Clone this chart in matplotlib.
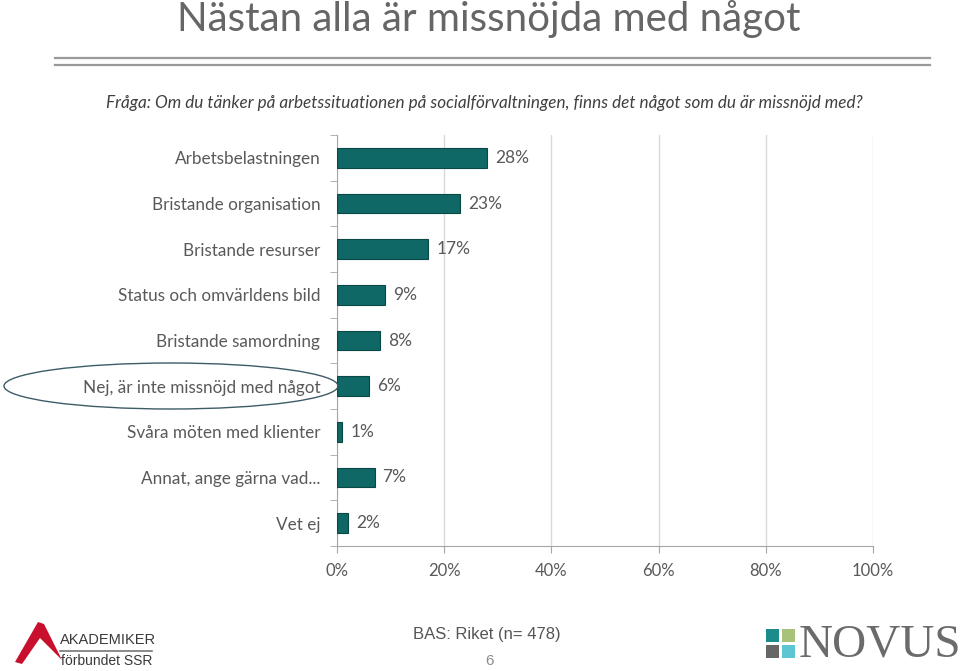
import matplotlib
matplotlib.use("Agg")
import matplotlib.pyplot as plt
from matplotlib.patches import Ellipse, Rectangle, Polygon
from matplotlib.lines import Line2D

# survey answers (share of respondents, %)
categories = [
    "Arbetsbelastningen",
    "Bristande organisation",
    "Bristande resurser",
    "Status och omvärldens bild",
    "Bristande samordning",
    "Nej, är inte missnöjd med något",
    "Svåra möten med klienter",
    "Annat, ange gärna vad...",
    "Vet ej",
]
values = [28, 23, 17, 9, 8, 6, 1, 7, 2]
xticks = [0, 20, 40, 60, 80, 100]

W, H = 960, 671
plt.rcParams['font.family'] = ['Lato', 'DejaVu Sans']
fig = plt.figure(figsize=(W / 100, H / 100), dpi=100)


def fx(x):
    return x / W


def fy(y):
    return 1 - y / H


gray = "#595959"
teal = "#0f6866"
narrow = ["Liberation Sans Narrow", "Liberation Sans", "DejaVu Sans"]

# title and double rule
fig.text(fx(489), fy(19), "Nästan alla är missnöjda med något", ha="center", va="center",
         fontsize=29, color="#666666", fontweight="normal")
for y in (58, 65):
    fig.add_artist(Line2D([fx(55), fx(930)], [fy(y), fy(y)], color="#9a9a9a", lw=1.6))
fig.text(fx(484), fy(103),
         "Fråga: Om du tänker på arbetssituationen på socialförvaltningen, finns det något som du är missnöjd med?",
         ha="center", va="center", fontsize=12.3, style="italic", color="#404040")

# chart
ax = fig.add_axes([fx(337), fy(546), fx(873) - fx(337), fy(135) - fy(546)])
pos = list(range(len(categories)))
ax.barh(pos, values, height=0.43, color=teal, edgecolor="#0a4846", linewidth=0.8, zorder=3)
for p, v in zip(pos, values):
    ax.text(v + 1.5, p, f"{v}%", va="center", ha="left", fontsize=12.5, color=gray)
ax.set_xlim(0, 100)
ax.set_ylim(len(categories) - 0.5, -0.5)
ax.set_xticks(xticks)
ax.set_xticklabels([f"{t}%" for t in xticks], fontsize=12, color=gray)
ax.set_yticks(pos)
ax.set_yticklabels(categories, fontsize=12.3, color=gray)
ax.set_yticks([p + 0.5 for p in [-1] + pos], minor=True)
ax.tick_params(axis="y", which="major", length=0, pad=12)
ax.tick_params(axis="y", which="minor", length=5, color="#a6a6a6", direction="out")
ax.tick_params(axis="x", length=5, color="#a6a6a6", pad=7)
ax.grid(axis="x", color="#d9d9d9", lw=1, zorder=0)
for s in ("top", "right"):
    ax.spines[s].set_visible(False)
for s in ("left", "bottom"):
    ax.spines[s].set_color("#a6a6a6")

# ellipse around the "Nej" label
fig.add_artist(Ellipse((fx(171), fy(386)), fx(334), 46 / H, fill=False,
                       edgecolor="#3d5c66", lw=1.0))

# footer
fig.text(fx(487), fy(635), "BAS: Riket (n= 478)", ha="center", va="center",
         fontsize=12, color="#555555", family=narrow)
fig.text(fx(490), fy(661), "6", ha="center", va="center", fontsize=11, color="#8c8c8c",
         family=narrow)

# Akademiker logo
fig.add_artist(Polygon([(fx(15), fy(662)), (fx(38), fy(622)), (fx(44), fy(624)),
                        (fx(62), fy(660)), (fx(40), fy(638)), (fx(22), fy(664))],
                       closed=True, color="#c8102e", lw=0))
fig.text(fx(60), fy(640), "AKADEMIKER", ha="left", va="center", fontsize=10.5,
         color="#3a3a3a", family=narrow)
fig.add_artist(Line2D([fx(60), fx(152)], [fy(651), fy(651)], color="#777777", lw=1.2))
fig.text(fx(152), fy(661), "förbundet SSR", ha="right", va="center", fontsize=10,
         color="#3a3a3a", family=narrow)

# Novus logo
sq = 13
for (x, y, c) in [(766, 629, "#1b8b8c"), (782, 629, "#a9c27a"),
                  (766, 645, "#666666"), (782, 645, "#5cc6d3")]:
    fig.add_artist(Rectangle((fx(x), fy(y + sq)), sq / W, sq / H, color=c, lw=0))
fig.text(fx(799), fy(645), "NOVUS", ha="left", va="center", fontsize=34,
         color="#6b6b6b", family=["Liberation Serif", "DejaVu Serif"])

fig.savefig("out.png", dpi=100)
